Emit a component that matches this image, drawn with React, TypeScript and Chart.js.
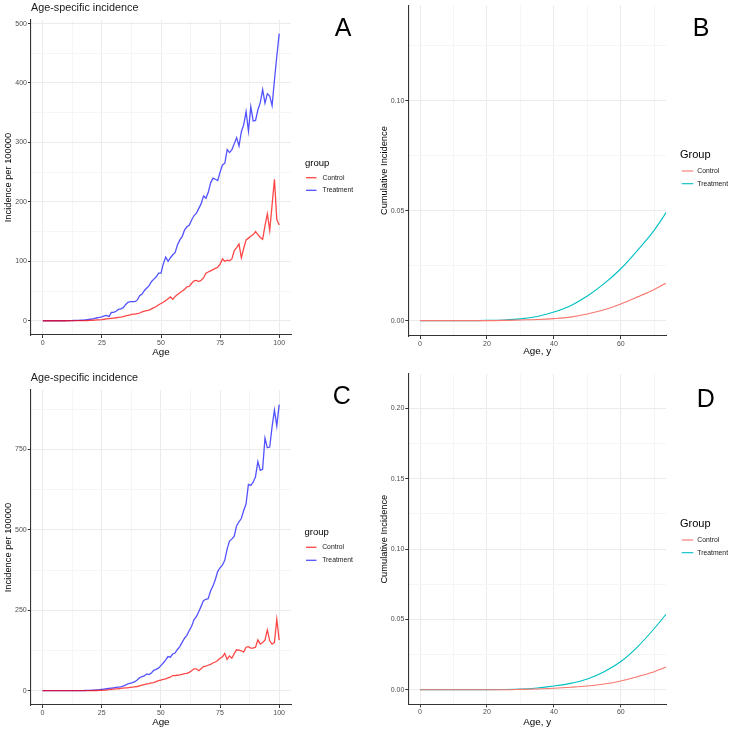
import React, { useEffect, useRef } from "react";
import { Chart, registerables } from "chart.js";

Chart.register(...registerables);

const FONT = '"Liberation Sans", Arial, Helvetica, sans-serif';

// ---------- DATA ----------
const AC_AGES = Array.from({ length: 101 }, (_, i) => i);

const A_CONTROL = [
  0, 0, 0, 0, 0, 0, 0, 0, 0, 0,
  0, 0, 0.1, 0.1, 0.1, 0.2, 0.2, 0.3, 0.3, 0.4,
  0.5, 0.8, 1, 1.3, 1.6, 2, 2.5, 3, 3.5, 4,
  4.5, 5, 5.5, 6, 7, 8, 9, 10, 11, 11,
  12, 13, 15, 16, 17, 18, 20, 22, 24, 27,
  29, 31, 34, 37, 40, 36, 41, 44, 47, 50,
  53, 57, 58, 63, 67, 68, 66, 68, 72, 80,
  82, 84, 86, 88, 90, 95, 104, 100, 102, 101,
  104, 118, 123, 129, 106, 122, 136, 139, 142, 145,
  150, 145, 140, 137, 160, 180, 152, 195, 238, 170, 161,
];

const A_TREATMENT = [
  0, 0, 0, 0, 0, 0, 0, 0, 0, 0,
  0.2, 0.3, 0.3, 0.4, 0.5, 0.6, 0.8, 1, 1.5, 2,
  2.5, 3, 4, 5, 5.5, 6.5, 8, 9, 7, 14,
  14, 16, 19, 20, 22, 27, 31, 32, 32, 32,
  35, 42, 45, 51, 55, 59, 66, 70, 74, 80,
  80, 96, 107, 100, 106, 111, 115, 128, 136, 142,
  153, 158, 161, 170, 177, 181, 189, 197, 210, 206,
  216, 232, 240, 238, 236, 250, 262, 265, 288, 283,
  288, 298, 308, 294, 318, 330, 352, 319, 360, 336,
  337, 355, 367, 389, 366, 382, 378, 362, 405, 445, 483,
];

const C_CONTROL = [
  0, 0, 0, 0, 0, 0, 0, 0, 0, 0,
  0, 0, 0, 0, 0, 0.1, 0.1, 0.2, 0.2, 0.3,
  0.3, 0.4, 0.5, 0.6, 0.8, 1, 1.5, 2, 3, 4,
  5, 5.5, 6, 7, 8, 9, 9, 10, 11, 12,
  13, 15, 17, 19, 21, 22, 24, 25, 28, 31,
  33, 35, 37, 40, 42, 47, 47, 48, 49, 51,
  53, 54, 57, 62, 68, 68, 62, 68, 75, 76,
  79, 82, 86, 89, 94, 101, 105, 116, 97, 108,
  101, 115, 127, 126, 124, 120, 135, 137, 132, 132,
  135, 158, 145, 150, 157, 189, 155, 145, 150, 222, 157,
];

const C_TREATMENT = [
  0, 0, 0, 0, 0, 0, 0, 0, 0, 0,
  0, 0, 0, 0.1, 0.1, 0.2, 0.3, 0.4, 0.5, 0.7,
  1, 1.5, 2, 2.5, 3, 4, 5, 6, 7, 8,
  9, 10, 11, 12, 14, 17, 21, 23, 25, 28,
  33, 40, 44, 46, 52, 50, 55, 63, 66, 70,
  78, 86, 95, 106, 104, 114, 117, 128, 137, 150,
  163, 172, 187, 200, 220, 230, 245, 262, 280, 284,
  286, 310, 325, 345, 370, 382, 390, 405, 440, 465,
  471, 480, 512, 525, 535, 560, 580, 641, 638, 648,
  665, 712, 685, 688, 785, 755, 757, 820, 872, 823, 889,
];

const BD_AGES = [0, 5, 10, 15, 20, 25, 30, 35, 40, 45, 50, 55, 60, 65, 70, 75];
const B_CONTROL = [0, 0, 0, 0, 0, 0.0001, 0.0003, 0.0005, 0.0009, 0.0016, 0.003, 0.0049, 0.0076, 0.0108, 0.0142, 0.0182];
const B_TREATMENT = [0, 0, 0, 0, 0.0001, 0.0003, 0.0008, 0.0019, 0.0039, 0.0068, 0.0112, 0.0168, 0.0236, 0.032, 0.0412, 0.0525];
const D_CONTROL = [0, 0, 0, 0, 0, 0, 0.0002, 0.0005, 0.001, 0.0017, 0.0026, 0.004, 0.0062, 0.0093, 0.0128, 0.0175];
const D_TREATMENT = [0, 0, 0, 0, 0, 0.0001, 0.0004, 0.0012, 0.0026, 0.0045, 0.0076, 0.0128, 0.02, 0.0305, 0.0435, 0.058];

const GROUPS = ["Control", "Treatment"];

const AC_X_TICKS = [0, 25, 50, 75, 100];
const A_Y_TICKS = [0, 100, 200, 300, 400, 500];
const C_Y_TICKS = [0, 250, 500, 750];
const BD_X_TICKS = [0, 20, 40, 60];
const B_Y_TICKS = [0, 0.05, 0.1];
const D_Y_TICKS = [0, 0.05, 0.1, 0.15, 0.2];

// ---------- helpers ----------
function withMinors(majors: number[], max: number) {
  const step = majors[1] - majors[0];
  const out: number[] = [];
  majors.forEach((m) => {
    out.push(m);
    if (m + step / 2 <= max) out.push(m + step / 2);
  });
  return out;
}

function isMajor(v: number, majors: number[]) {
  return majors.some((m) => Math.abs(m - v) < 1e-9);
}

const MAJOR_GRID = "#EBEBEB";
const MINOR_GRID = "#F5F5F5";
const AXIS = "#333333";

const textPlugin = {
  id: "panelText",
  afterDraw(chart: any, _args: any, o: any) {
    const ctx = chart.ctx;
    const a = chart.chartArea;
    ctx.save();
    ctx.textBaseline = "middle";
    if (o.title) {
      ctx.font = `10.8px ${FONT}`;
      ctx.fillStyle = "#1A1A1A";
      ctx.textAlign = "left";
      ctx.fillText(o.title, a.left, o.titleY);
    }
    ctx.font = `25px ${FONT}`;
    ctx.fillStyle = "#000";
    ctx.textAlign = "center";
    ctx.fillText(o.letter, o.letterX, o.letterY);

    ctx.font = `9.8px ${FONT}`;
    ctx.fillStyle = "#000";
    ctx.fillText(o.xTitle, (a.left + a.right) / 2, o.xTitleY);

    ctx.save();
    ctx.font = `9.3px ${FONT}`;
    ctx.translate(o.yTitleX, (a.top + a.bottom) / 2);
    ctx.rotate(-Math.PI / 2);
    ctx.fillText(o.yTitle, 0, 0);
    ctx.restore();

    // legend
    ctx.textAlign = "left";
    ctx.font = `${o.legendTitleSize}px ${FONT}`;
    ctx.fillStyle = "#000";
    ctx.fillText(o.legendTitle, o.legendX, o.legendTitleY);
    chart.data.datasets.forEach((ds: any, i: number) => {
      const y = o.legendItemY[i];
      ctx.strokeStyle = ds.borderColor;
      ctx.lineWidth = ds.borderWidth;
      ctx.beginPath();
      ctx.moveTo(o.keyX0, y);
      ctx.lineTo(o.keyX1, y);
      ctx.stroke();
      ctx.font = `6.8px ${FONT}`;
      ctx.fillStyle = "#1A1A1A";
      ctx.fillText(ds.label, o.legendTextX, y);
    });
    ctx.restore();
  },
};

type PanelProps = {
  left: number;
  top: number;
  width: number;
  height: number;
  pad: { left: number; top: number; right: number; bottom: number };
  xs: number[];
  series: number[][];
  colors: string[];
  lineWidth: number;
  smooth: boolean;
  xMin: number;
  xMax: number;
  yMin: number;
  yMax: number;
  xMajors: number[];
  yMajors: number[];
  yFmt: (v: number) => string;
  text: any;
};

function Panel(p: PanelProps) {
  const ref = useRef<HTMLCanvasElement | null>(null);
  useEffect(() => {
    if (!ref.current) return;
    const xTicks = withMinors(p.xMajors, p.xMax);
    const yTicks = withMinors(p.yMajors, p.yMax);
    const gridColor = (majors: number[]) => (c: any) =>
      c.tick && !isMajor(c.tick.value, majors) ? MINOR_GRID : MAJOR_GRID;
    const tickColor = (majors: number[]) => (c: any) =>
      c.tick && !isMajor(c.tick.value, majors) ? "rgba(0,0,0,0)" : AXIS;
    const chart = new Chart(ref.current, {
      type: "line",
      data: {
        datasets: p.series.map((vals, i) => ({
          label: GROUPS[i],
          data: p.xs.map((x, j) => ({ x, y: vals[j] })),
          borderColor: p.colors[i],
          backgroundColor: p.colors[i],
          borderWidth: p.lineWidth,
          pointRadius: 0,
          tension: 0,
          cubicInterpolationMode: p.smooth ? "monotone" : "default",
          fill: false,
        })),
      },
      options: {
        responsive: false,
        animation: false,
        events: [],
        layout: { padding: { left: 0, top: p.pad.top, right: p.pad.right, bottom: 0 } },
        plugins: {
          legend: { display: false },
          title: { display: false },
          tooltip: { enabled: false },
          panelText: p.text,
        } as any,
        scales: {
          x: {
            type: "linear",
            min: p.xMin,
            max: p.xMax,
            afterBuildTicks: (s: any) => {
              s.ticks = xTicks.map((v) => ({ value: v }));
            },
            afterFit: (s: any) => {
              s.height = p.pad.bottom;
            },
            grid: {
              color: gridColor(p.xMajors),
              lineWidth: 1,
              drawTicks: true,
              tickLength: 3,
              tickColor: tickColor(p.xMajors),
            },
            border: { display: true, color: AXIS, width: 1.1 },
            ticks: {
              autoSkip: false,
              maxRotation: 0,
              padding: 1,
              color: "#4D4D4D",
              font: { size: 7, family: FONT },
              callback: (v: any) => (isMajor(Number(v), p.xMajors) ? String(v) : ""),
            },
          },
          y: {
            type: "linear",
            min: p.yMin,
            max: p.yMax,
            afterBuildTicks: (s: any) => {
              s.ticks = yTicks.map((v) => ({ value: v }));
            },
            afterFit: (s: any) => {
              s.width = p.pad.left;
            },
            grid: {
              color: gridColor(p.yMajors),
              lineWidth: 1,
              drawTicks: true,
              tickLength: 3,
              tickColor: tickColor(p.yMajors),
            },
            border: { display: true, color: AXIS, width: 1.1 },
            ticks: {
              autoSkip: false,
              padding: 1,
              color: "#4D4D4D",
              font: { size: 7, family: FONT },
              callback: (v: any) => (isMajor(Number(v), p.yMajors) ? p.yFmt(Number(v)) : ""),
            },
          },
        },
      } as any,
      plugins: [textPlugin as any],
    });
    return () => chart.destroy();
  }, []);
  return (
    <canvas
      ref={ref}
      width={p.width}
      height={p.height}
      style={{ position: "absolute", left: p.left, top: p.top, width: p.width, height: p.height }}
    />
  );
}

const RED_BLUE = ["rgba(255,0,0,0.72)", "rgba(0,0,255,0.68)"];
const GG = ["#F8766D", "#00BFC4"];
const intFmt = (v: number) => String(Math.round(v));
const decFmt = (v: number) => v.toFixed(2);

export default function App() {
  return (
    <div style={{ position: "absolute", left: 0, top: 0, width: 733, height: 732, background: "#fff", overflow: "hidden" }}>
      <Panel
        left={0} top={0} width={365} height={362}
        pad={{ left: 31, top: 20, right: 74, bottom: 27 }}
        xs={AC_AGES} series={[A_CONTROL, A_TREATMENT]} colors={RED_BLUE} lineWidth={1.3} smooth={false}
        xMin={-5} xMax={105} yMin={-24} yMax={506}
        xMajors={AC_X_TICKS} yMajors={A_Y_TICKS} yFmt={intFmt}
        text={{
          title: "Age-specific incidence", titleY: 8,
          letter: "A", letterX: 343, letterY: 29,
          xTitle: "Age", xTitleY: 352.5,
          yTitle: "Incidence per 100000", yTitleX: 8.5,
          legendTitle: "group", legendTitleSize: 9.5, legendX: 305, legendTitleY: 163,
          legendItemY: [177.7, 190.3], keyX0: 306, keyX1: 316.5, legendTextX: 322.5,
        }}
      />
      <Panel
        left={365} top={0} width={368} height={362}
        pad={{ left: 43.3, top: 5, right: 67, bottom: 26 }}
        xs={BD_AGES} series={[B_CONTROL, B_TREATMENT]} colors={GG} lineWidth={1.1} smooth={true}
        xMin={-3.5} xMax={73.5} yMin={-0.007} yMax={0.1435}
        xMajors={BD_X_TICKS} yMajors={B_Y_TICKS} yFmt={decFmt}
        text={{
          title: "",
          letter: "B", letterX: 336, letterY: 29,
          xTitle: "Age, y", xTitleY: 351.5,
          yTitle: "Cumulative Incidence", yTitleX: 19,
          legendTitle: "Group", legendTitleSize: 11, legendX: 315, legendTitleY: 155,
          legendItemY: [171, 183.7], keyX0: 316.7, keyX1: 328.3, legendTextX: 332.3,
        }}
      />
      <Panel
        left={0} top={362} width={365} height={370}
        pad={{ left: 30.7, top: 28, right: 74, bottom: 27 }}
        xs={AC_AGES} series={[C_CONTROL, C_TREATMENT]} colors={RED_BLUE} lineWidth={1.3} smooth={false}
        xMin={-5} xMax={105} yMin={-44.5} yMax={934.5}
        xMajors={AC_X_TICKS} yMajors={C_Y_TICKS} yFmt={intFmt}
        text={{
          title: "Age-specific incidence", titleY: 15.7,
          letter: "C", letterX: 341.7, letterY: 35.3,
          xTitle: "Age", xTitleY: 360.7,
          yTitle: "Incidence per 100000", yTitleX: 8.5,
          legendTitle: "group", legendTitleSize: 9.5, legendX: 304.5, legendTitleY: 170.7,
          legendItemY: [185.3, 198.3], keyX0: 306, keyX1: 316.5, legendTextX: 322.2,
        }}
      />
      <Panel
        left={365} top={362} width={368} height={370}
        pad={{ left: 43.3, top: 12, right: 67, bottom: 27.7 }}
        xs={BD_AGES} series={[D_CONTROL, D_TREATMENT]} colors={GG} lineWidth={1.1} smooth={true}
        xMin={-3.5} xMax={73.5} yMin={-0.0104} yMax={0.2245}
        xMajors={BD_X_TICKS} yMajors={D_Y_TICKS} yFmt={decFmt}
        text={{
          title: "",
          letter: "D", letterX: 340.7, letterY: 38,
          xTitle: "Age, y", xTitleY: 360.3,
          yTitle: "Cumulative Incidence", yTitleX: 19,
          legendTitle: "Group", legendTitleSize: 11, legendX: 315, legendTitleY: 162,
          legendItemY: [178, 190.7], keyX0: 316.7, keyX1: 328.3, legendTextX: 332.3,
        }}
      />
    </div>
  );
}
